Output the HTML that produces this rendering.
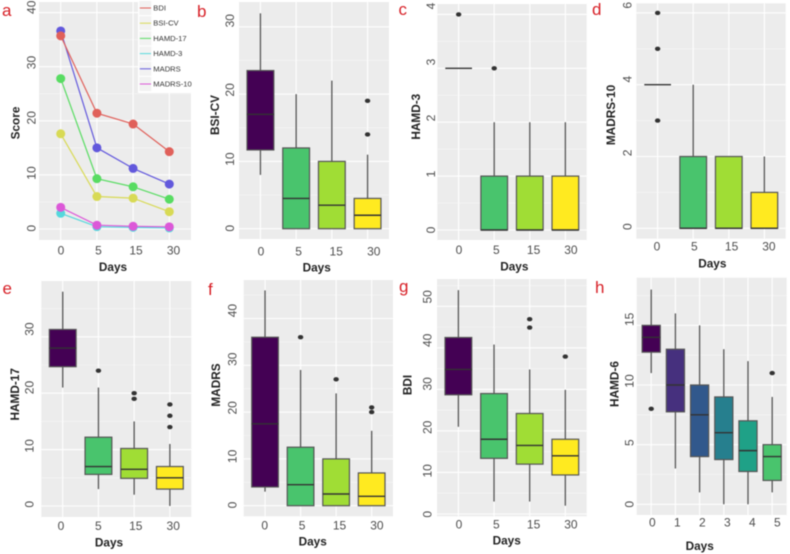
<!DOCTYPE html>
<html>
<head>
<meta charset="utf-8">
<title>Score panels by day</title>
<style>
html,body{margin:0;padding:0;background:#fff;width:790px;height:554px;overflow:hidden}
svg{display:block;filter:blur(0.4px)}
text{font-family:"Liberation Sans",sans-serif}
</style>
</head>
<body>
<svg id="figure" width="790" height="554" viewBox="0 0 790 554" xmlns="http://www.w3.org/2000/svg"></svg>
<script>
// ---- Panel a: mean score lines ----
const lineDays = ['0','5','15','30'];
const lineSeriesNames = ['BDI','BSI-CV','HAMD-17','HAMD-3','MADRS','MADRS-10'];
const bdiMeans = [35.7,21.4,19.4,14.3];
const bsiCvMeans = [17.6,6.0,5.7,3.2];
const hamd17Means = [27.8,9.3,7.8,5.5];
const hamd3Means = [2.9,0.43,0.3,0.2];
const madrsMeans = [36.6,15.0,11.2,8.3];
const madrs10Means = [4.0,0.7,0.5,0.4];
const scoreTicks = [0,10,20,30,40];

// ---- Panel b: BSI-CV ----
const bsiLow = [8,0,0,0];
const bsiQ1 = [11.7,0,0,0];
const bsiMedian = [17,4.5,3.5,2];
const bsiQ3 = [23.5,12,10,4.5];
const bsiHigh = [32,20,22,11];
const bsiOutliers = [[],[],[],[14,19]];
const bsiTicks = [0,10,20,30];

// ---- Panel c: HAMD-3 ----
const hamd3Low = [3,0,0,0];
const hamd3Q1 = [3,0,0,0];
const hamd3Median = [3,0,0,0];
const hamd3Q3 = [3,1,1,1];
const hamd3High = [3,2,2,2];
const hamd3Outliers = [[4],[3],[],[]];
const hamd3Ticks = [0,1,2,3,4];

// ---- Panel d: MADRS-10 ----
const madrs10Low = [4,0,0,0];
const madrs10Q1 = [4,0,0,0];
const madrs10Median = [4,0,0,0];
const madrs10Q3 = [4,2,2,1];
const madrs10High = [4,4,2,2];
const madrs10Outliers = [[3,5,6],[],[],[]];
const madrs10Ticks = [0,2,4,6];

// ---- Panel e: HAMD-17 ----
const hamd17Low = [21,3,2,0];
const hamd17Q1 = [24.7,5.6,4.9,3];
const hamd17Median = [28,7,6.5,5];
const hamd17Q3 = [31.3,12.2,10.2,7];
const hamd17High = [38,21,15,11];
const hamd17Outliers = [[],[24],[19,20],[14,16,18]];
const hamd17Ticks = [0,10,20,30];

// ---- Panel f: MADRS ----
const madrsLow = [3,0,0,0];
const madrsQ1 = [4,0,0,0];
const madrsMedian = [17.5,4.5,2.5,2];
const madrsQ3 = [36,12.5,10,7];
const madrsHigh = [46,29,24,16];
const madrsOutliers = [[],[36],[27],[20,21]];
const madrsTicks = [0,10,20,30,40];

// ---- Panel g: BDI ----
const bdiLow = [21,3,3,2];
const bdiQ1 = [28.7,13.4,12,9.4];
const bdiMedian = [34.8,18,16.5,14];
const bdiQ3 = [42.5,29,24.2,18];
const bdiHigh = [53.9,40.8,34.8,29.9];
const bdiOutliers = [[],[],[44.9,46.9],[37.9]];
const bdiTicks = [0,10,20,30,40,50];

// ---- Panel h: HAMD-6 ----
const hamd6Days = ['0','1','2','3','4','5'];
const hamd6Low = [11,3,1,0,0,1];
const hamd6Q1 = [12.75,7.75,4,3.75,2.75,2];
const hamd6Median = [14,10,7.5,6,4.5,4];
const hamd6Q3 = [15,13,10,9,7,5];
const hamd6High = [18,16,15,13,12,9];
const hamd6Outliers = [[8],[],[],[],[],[11]];
const hamd6Ticks = [0,5,10,15];

const boxDays = ['0','5','15','30'];

const NS = 'http://www.w3.org/2000/svg';
const root = document.getElementById('figure');
function mk(tag, parent, attrs, txt){
  const e = document.createElementNS(NS, tag);
  for (const k in attrs) e.setAttribute(k, attrs[k]);
  if (txt !== undefined) e.textContent = txt;
  parent.appendChild(e);
  return e;
}

const fourColors = ['#440154','#49c46d','#a0dd35','#ffea20'];
const sixColors = ['#440154','#46307e','#31588c','#267f8e','#1fa187','#49c46d'];

// Build axis functions for a panel from its layout
function axes(L, n){
  const step = (L.right - L.left) / (n + 0.2);
  return {
    step: step,
    x: i => L.left + (0.6 + i) * step,
    y: v => L.zeroY - v * L.unit,
    labelX: i => L.labelStart + i * L.labelStep,
    labelY: v => L.labelZero - v * L.labelUnit
  };
}

function drawFrame(L, A, cats, ticks, letter, yTitle, xTitle){
  const g = mk('g', root, {});
  
  

  const bg = mk('rect', g, {x:L.left, y:L.top, width:L.right-L.left, height:L.bottom-L.top, fill:'#ececec'});
  
  

  const tickGap = ticks[1] - ticks[0];
  const last = ticks[ticks.length-1];
  for (let v = ticks[0] - tickGap/2; v <= last + tickGap/2; v += tickGap){
    const py = A.y(v);
    if (py <= L.top || py >= L.bottom) continue;
    const minor = mk('line', g, {x1:L.left, x2:L.right, y1:py, y2:py, stroke:'#f7f7f7', 'stroke-width':0.6});
    
    
  }
  ticks.forEach(v => {
    const major = mk('line', g, {x1:L.left, x2:L.right, y1:A.y(v), y2:A.y(v), stroke:'#fff', 'stroke-width':1.1});
    
    
    const lx = L.yLabelX, ly = A.labelY(v);
    const t = mk('text', g, {x:lx, y:ly, 'font-size':12, fill:'#4d4d4d', 'text-anchor':'middle', 'dominant-baseline':'central', transform:'rotate(-90 '+lx+' '+ly+')'}, String(v));
    
    
  });
  cats.forEach((c,i) => {
    const vg = mk('line', g, {x1:A.x(i), x2:A.x(i), y1:L.top, y2:L.bottom, stroke:'#fff', 'stroke-width':1.1});
    
    
    const t = mk('text', g, {x:A.labelX(i), y:L.xLabelY, 'font-size':12, fill:'#4d4d4d', 'text-anchor':'middle', 'dominant-baseline':'central'}, c);
    
    
  });

  const xt = mk('text', g, {x:L.xTitleX, y:L.xTitleY, 'font-size':11.8, 'font-weight':'bold', fill:'#222', 'text-anchor':'middle', 'dominant-baseline':'central'}, xTitle);
  
  

  const yt = mk('text', g, {x:L.yTitleX, y:L.yTitleY, 'font-size':11.8, 'font-weight':'bold', fill:'#222', 'text-anchor':'middle', 'dominant-baseline':'central', transform:'rotate(-90 '+L.yTitleX+' '+L.yTitleY+')'}, yTitle);
  
  

  const pl = mk('text', g, {x:L.letterX, y:L.letterY, 'font-size':17, fill:'#d71f26'}, letter);
  
  
  return g;
}

function drawBoxes(L, cats, colors, low, q1, med, q3, high, outliers, ticks, letter, yTitle){
  const A = axes(L, cats.length);
  const g = drawFrame(L, A, cats, ticks, letter, yTitle, 'Days');
  const w = A.step * 0.75;
  cats.forEach((c,i) => {
    const cx = A.x(i);
    const wl = mk('line', g, {x1:cx, x2:cx, y1:A.y(high[i]), y2:A.y(q3[i]), stroke:'#555', 'stroke-width':1.3});
    
    
    const wb = mk('line', g, {x1:cx, x2:cx, y1:A.y(q1[i]), y2:A.y(low[i]), stroke:'#555', 'stroke-width':1.3});
    
    
    const bx = mk('rect', g, {x:cx-w/2, y:A.y(q3[i]), width:w, height:Math.max(0, A.y(q1[i])-A.y(q3[i])), fill:colors[i], stroke:'#555', 'stroke-width':1.2});
    
    
    const md = mk('line', g, {x1:cx-w/2, x2:cx+w/2, y1:A.y(med[i]), y2:A.y(med[i]), stroke:'#333', 'stroke-width':1.4});
    
    
    outliers[i].forEach(v => {
      const o = mk('ellipse', g, {cx:cx, cy:A.y(v), rx:2.7, ry:2.2, fill:'#333'});
      
      
    });
  });
}

// ---- Panel a drawing ----
const layoutA = {left:39,right:191,top:2,bottom:240,zeroY:229,unit:5.41,labelStart:61,labelStep:37.5,labelZero:228.3,labelUnit:5.525,yLabelX:31.7,xLabelY:250.7,xTitleX:113,xTitleY:267,yTitleX:15.7,yTitleY:123,letterX:2,letterY:16};
const axA = axes(layoutA, lineDays.length);
const gA = drawFrame(layoutA, axA, lineDays, scoreTicks, 'a', 'Score', 'Days');

const legendBox = mk('rect', gA, {x:138, y:0, width:56, height:93, fill:'#fff'});



const seriesOrder = [
  {name:lineSeriesNames[0], values:bdiMeans, color:'#e0605a'},
  {name:lineSeriesNames[1], values:bsiCvMeans, color:'#d8da55'},
  {name:lineSeriesNames[2], values:hamd17Means, color:'#58dc62'},
  {name:lineSeriesNames[3], values:hamd3Means, color:'#55d8dc'},
  {name:lineSeriesNames[4], values:madrsMeans, color:'#6258dc'},
  {name:lineSeriesNames[5], values:madrs10Means, color:'#dc58d8'}
];
const drawOrder = [4,0,2,1,3,5];
drawOrder.forEach(si => {
  const s = seriesOrder[si];
  const pts = s.values.map((v,i) => axA.x(i).toFixed(1) + ',' + axA.y(v).toFixed(1)).join(' ');
  const pl = mk('polyline', gA, {points:pts, fill:'none', stroke:s.color, 'stroke-width':1.2});
  
  
  s.values.forEach((v,i) => {
    const c = mk('circle', gA, {cx:axA.x(i), cy:axA.y(v), r:4.5, fill:s.color});
    
    
  });
});
seriesOrder.forEach((s,i) => {
  const rowY = 8 + i * 15.2;
  const key = mk('rect', gA, {x:139.3, y:rowY-7, width:12, height:14, fill:'#f2f2f2'});
  
  
  const kl = mk('line', gA, {x1:139.8, x2:151, y1:rowY, y2:rowY, stroke:s.color, 'stroke-width':1});
  
  
  const lt = mk('text', gA, {x:153.3, y:rowY, 'font-size':7.6, fill:'#333', 'dominant-baseline':'central'}, s.name);
  
  
});

// ---- Box panels ----
drawBoxes({left:239,right:389,top:2,bottom:239,zeroY:228.7,unit:6.73,labelStart:261,labelStep:37.6,labelZero:228.3,labelUnit:6.92,yLabelX:230,xLabelY:251.7,xTitleX:316.7,xTitleY:267.7,yTitleX:215,yTitleY:115,letterX:197,letterY:17},
  boxDays, fourColors, bsiLow, bsiQ1, bsiMedian, bsiQ3, bsiHigh, bsiOutliers, bsiTicks, 'b', 'BSI-CV');

drawBoxes({left:437.3,right:586.7,top:4,bottom:240,zeroY:230,unit:53.9,labelStart:459,labelStep:37.3,labelZero:230,labelUnit:56,yLabelX:431,xLabelY:250,xTitleX:514.3,xTitleY:266.3,yTitleX:416,yTitleY:116.7,letterX:398.5,letterY:15},
  boxDays, fourColors, hamd3Low, hamd3Q1, hamd3Median, hamd3Q3, hamd3High, hamd3Outliers, hamd3Ticks, 'c', 'HAMD-3');

drawBoxes({left:636.3,right:785.7,top:3.3,bottom:238.7,zeroY:228.3,unit:35.9,labelStart:657,labelStep:37.3,labelZero:226.7,labelUnit:36.9,yLabelX:627.3,xLabelY:246.7,xTitleX:712.3,xTitleY:263.3,yTitleX:611,yTitleY:115,letterX:592,letterY:15},
  boxDays, fourColors, madrs10Low, madrs10Q1, madrs10Median, madrs10Q3, madrs10High, madrs10Outliers, madrs10Ticks, 'd', 'MADRS-10');

drawBoxes({left:41.3,right:191.3,top:281,bottom:517,zeroY:506,unit:5.64,labelStart:61,labelStep:37.4,labelZero:504.3,labelUnit:5.84,yLabelX:29.3,xLabelY:526,xTitleX:109,xTitleY:542.7,yTitleX:15,yTitleY:394.3,letterX:2.5,letterY:294},
  boxDays, fourColors, hamd17Low, hamd17Q1, hamd17Median, hamd17Q3, hamd17High, hamd17Outliers, hamd17Ticks, 'e', 'HAMD-17');

drawBoxes({left:243.7,right:393,top:280,bottom:516.3,zeroY:505.7,unit:4.68,labelStart:264.7,labelStep:37.4,labelZero:505,labelUnit:4.86,yLabelX:232.3,xLabelY:525.7,xTitleX:312.7,xTitleY:541.7,yTitleX:216,yTitleY:385,letterX:208,letterY:295},
  boxDays, fourColors, madrsLow, madrsQ1, madrsMedian, madrsQ3, madrsHigh, madrsOutliers, madrsTicks, 'f', 'MADRS');

drawBoxes({left:437,right:586.7,top:279,bottom:516.3,zeroY:514,unit:4.153,labelStart:459,labelStep:37.3,labelZero:514.3,labelUnit:4.35,yLabelX:427.3,xLabelY:524.3,xTitleX:506.7,xTitleY:540.3,yTitleX:407.7,yTitleY:385,letterX:399,letterY:292},
  boxDays, fourColors, bdiLow, bdiQ1, bdiMedian, bdiQ3, bdiHigh, bdiOutliers, bdiTicks, 'g', 'BDI');

drawBoxes({left:636.7,right:786.7,top:277.7,bottom:515,zeroY:504.3,unit:11.93,labelStart:652.3,labelStep:25,labelZero:504.3,labelUnit:12.33,yLabelX:629.3,xLabelY:522.7,xTitleX:699.7,xTitleY:546,yTitleX:614.3,yTitleY:384,letterX:595,letterY:293},
  hamd6Days, sixColors, hamd6Low, hamd6Q1, hamd6Median, hamd6Q3, hamd6High, hamd6Outliers, hamd6Ticks, 'h', 'HAMD-6');
</script>
</body>
</html>
